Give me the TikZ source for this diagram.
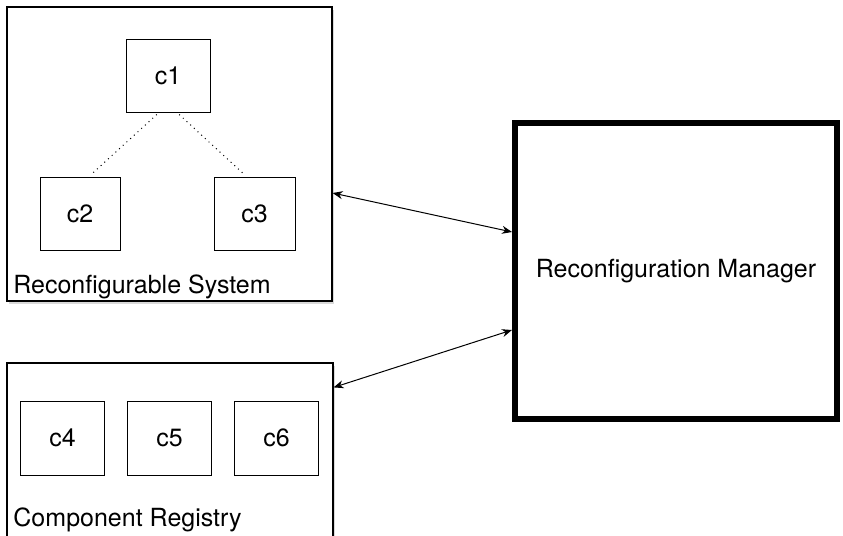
\documentclass[tikz,border=0pt]{standalone}
\usepackage{fontspec}
\setmainfont{TeX Gyre Heros}
\usetikzlibrary{arrows.meta,shadows}

\begin{document}
\begin{tikzpicture}[x=0.5pt,y=-0.5pt,>={Stealth[length=5pt,width=4pt]},
      font=\fontsize{12.5}{15}\selectfont,
      frame/.style={rectangle,draw,fill=white,line width=0.6pt,inner sep=0pt,
        drop shadow={opacity=0.3,shadow xshift=1pt,shadow yshift=-1.5pt}},
      comp/.style={rectangle,draw,fill=white,line width=0.5pt,inner sep=0pt,
        minimum width=42pt,minimum height=36.5pt}]
      \useasboundingbox (0,0) rectangle (843,536);

      \node[frame,minimum width=162.5pt,minimum height=147pt] (sys) at (169.5,154) {};
      \node[frame,minimum width=163pt,minimum height=91pt] (reg) at (170,454) {};
      \node[frame,line width=3pt,minimum width=161pt,minimum height=148pt] (mgr)
        at (676,271) {Reconfiguration Manager};

      \node[comp] (c1) at (168,75.5) {c1};
      \node[comp,minimum width=40pt] (c2) at (80,213.5) {c2};
      \node[comp,minimum width=40.5pt] (c3) at (254.5,213.5) {c3};
      \node[comp,minimum height=37pt] (c4) at (62.5,438) {c4};
      \node[comp,minimum height=37pt] (c5) at (169.5,438) {c5};
      \node[comp,minimum height=37pt] (c6) at (276.5,438) {c6};

      \node[anchor=base west,inner sep=0pt] (syslabel) at (13,293) {Reconfigurable System};
      \node[anchor=base west,inner sep=0pt] (reglabel) at (13,526) {Component Registry};

      \path[dotted,line width=0.5pt,shorten <=1.5pt,shorten >=1.5pt]
      ([xshift=-4.5pt]c1.south) edge ([xshift=4.5pt]c2.north)
      ([xshift=4.5pt]c1.south) edge ([xshift=-4pt]c3.north)
      ;

      \path[<->,line width=0.5pt]
      ([yshift=-19.5pt]sys.east) edge ([yshift=19.5pt]mgr.west)
      ([yshift=-12.5pt]reg.north east) edge ([yshift=-29.5pt]mgr.west)
      ;
      \end{tikzpicture}
\end{document}
